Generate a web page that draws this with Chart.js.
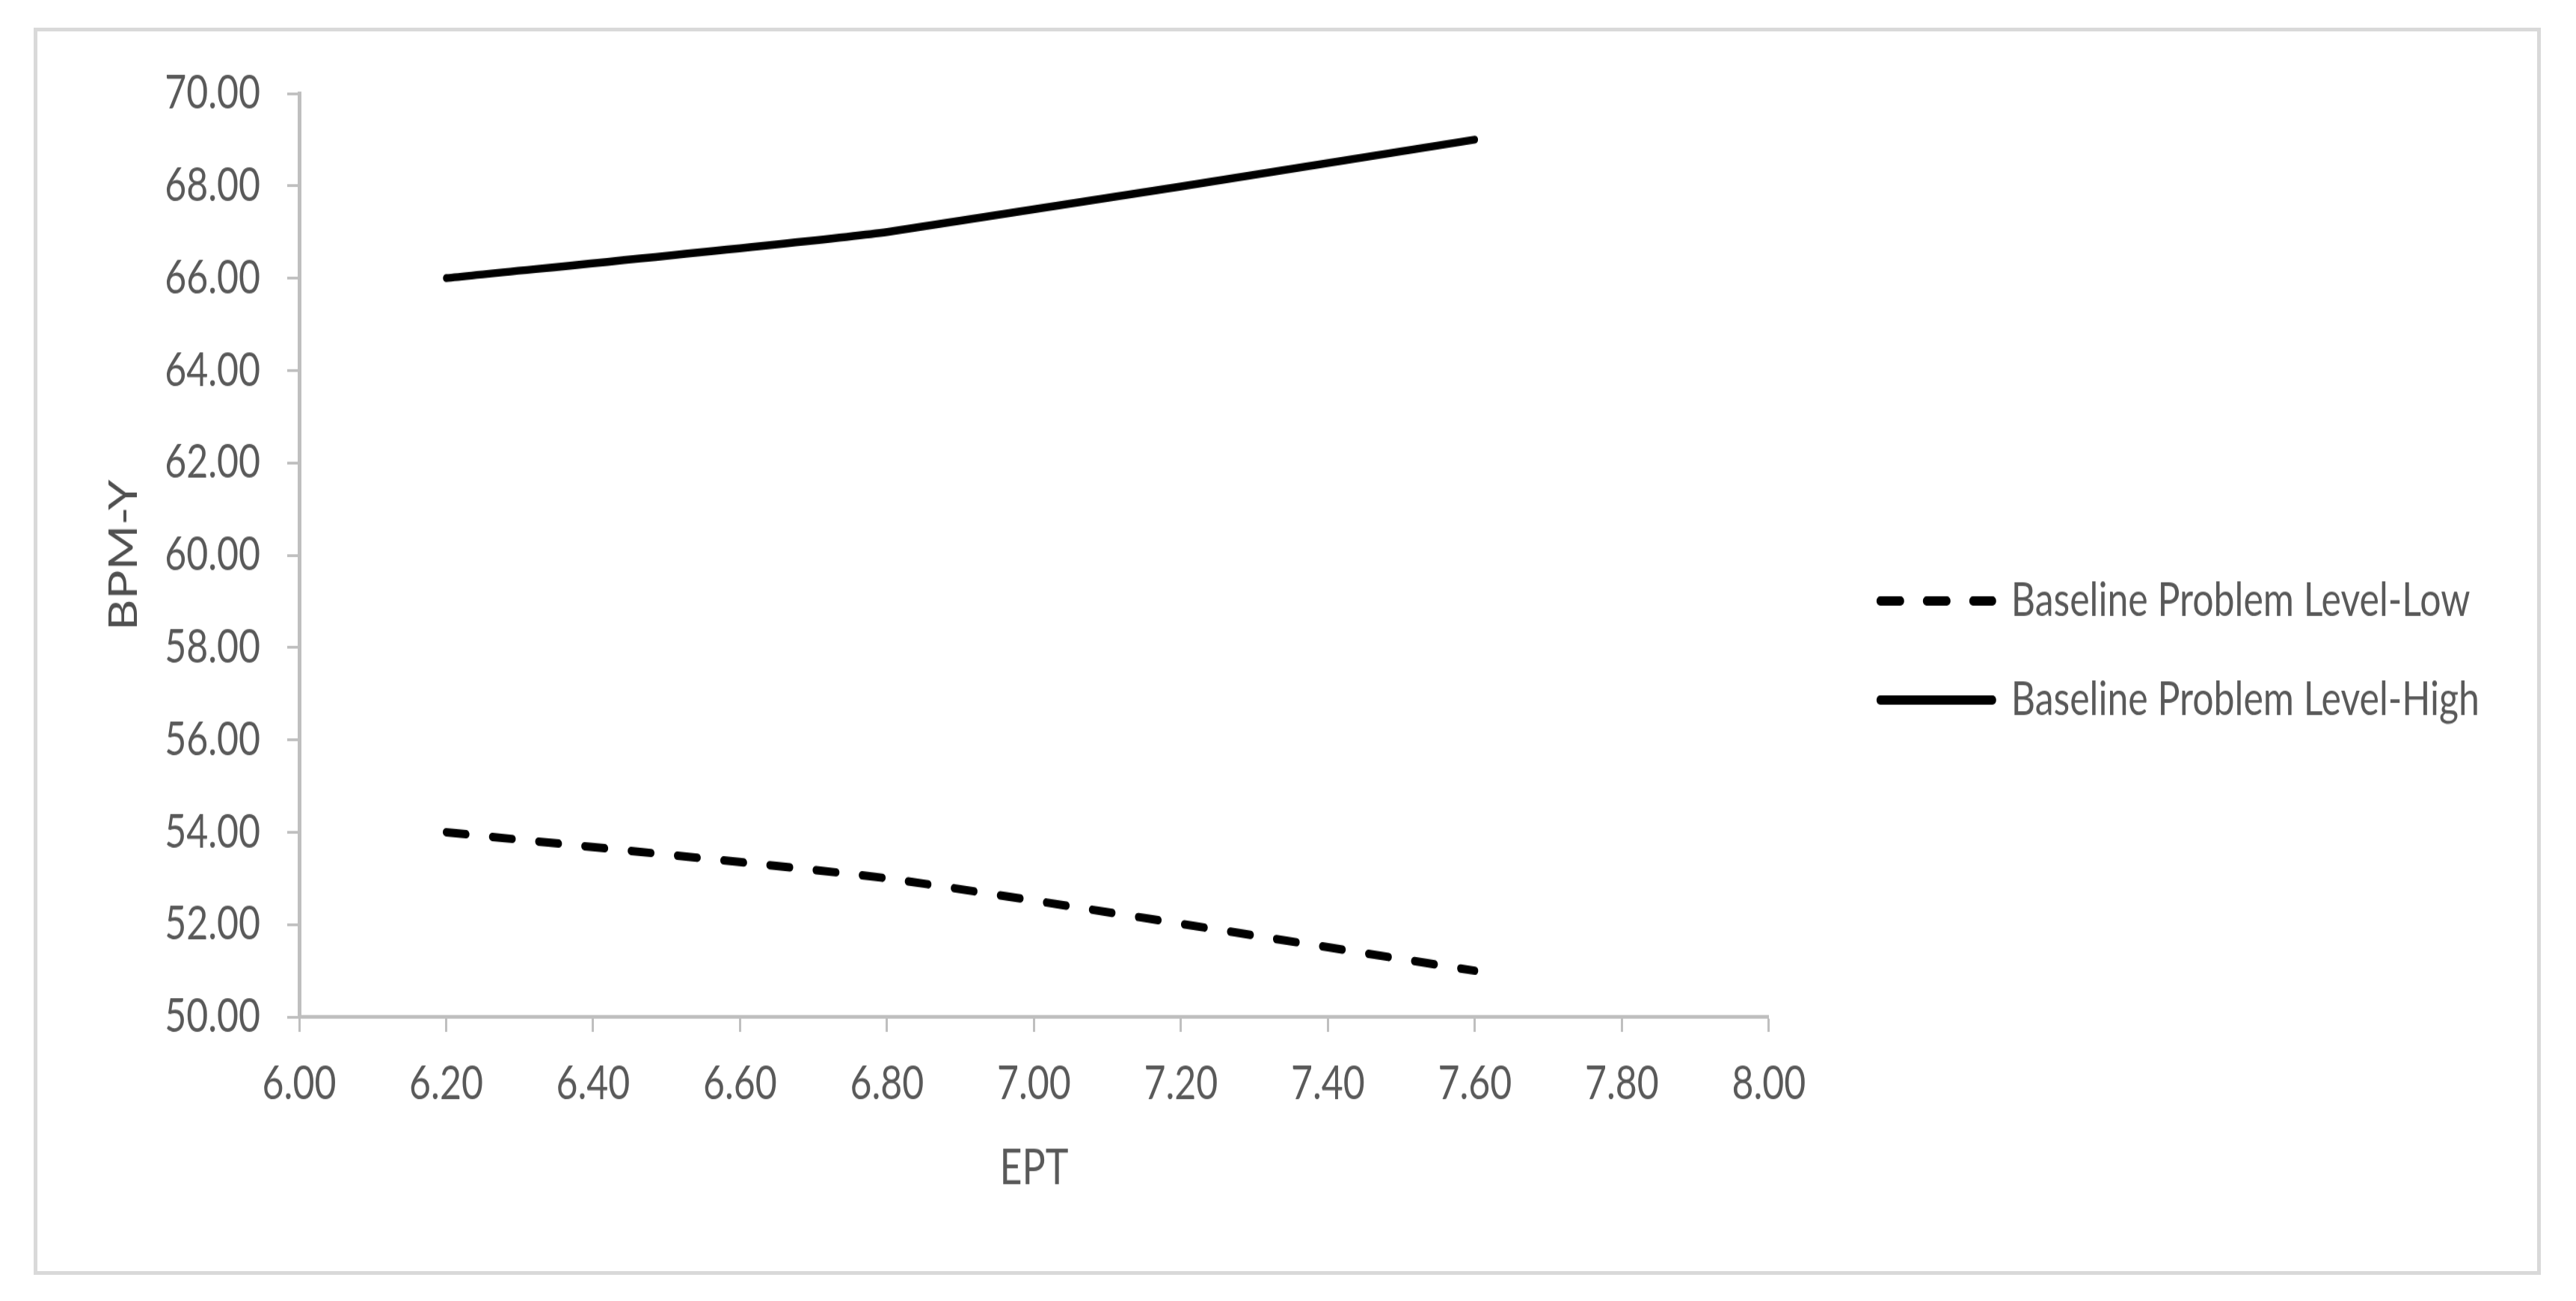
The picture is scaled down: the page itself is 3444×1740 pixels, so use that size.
<!DOCTYPE html>
<html>
<head>
<meta charset="utf-8">
<script src="https://cdn.jsdelivr.net/npm/chart.js@4.4.1/dist/chart.umd.min.js"></script>
<style>
html,body{margin:0;padding:0;background:#fff;overflow:hidden;width:3444px;height:1740px}
#frame{position:absolute;left:45px;top:37px;width:3342px;height:1658px;border:5px solid #d9d9d9;box-sizing:content-box}
#wrap{position:absolute;left:0;top:0;width:3444px;height:1392px;transform:scaleY(1.25);transform-origin:0 0}
canvas{display:block}
</style>
</head>
<body>
<div id="frame"></div>
<div id="wrap"><canvas id="c" width="3444" height="1392"></canvas></div>
<script>
// ---- data ----
const eptValues = [6.2, 6.8, 7.6];
const lowValues = [54, 53, 51];
const highValues = [66, 67, 69];
const seriesNames = ['Baseline Problem Level-Low', 'Baseline Problem Level-High'];
const xTickValues = [6.0, 6.2, 6.4, 6.6, 6.8, 7.0, 7.2, 7.4, 7.6, 7.8, 8.0];
const yTickValues = [50, 52, 54, 56, 58, 60, 62, 64, 66, 68, 70];
const xTitle = 'EPT';
const yTitle = 'BPM-Y';

const textColor = '#595959';
const axisColor = '#bfbfbf';
const fontFamily = 'Lato, "Open Sans", sans-serif';
Chart.defaults.font.family = fontFamily;

const toPoints = vals => eptValues.map((x, i) => ({x: x, y: vals[i]}));

new Chart(document.getElementById('c'), {
  type: 'line',
  data: {
    datasets: [
      {
        label: seriesNames[0],
        data: toPoints(lowValues),
        borderColor: '#000', backgroundColor: '#000',
        borderWidth: 9, borderDash: [27, 35], borderCapStyle: 'round',
        pointRadius: 0, tension: 0.15, fill: false
      },
      {
        label: seriesNames[1],
        data: toPoints(highValues),
        borderColor: '#000', backgroundColor: '#000',
        borderWidth: 8.5, borderDash: [], borderCapStyle: 'round',
        pointRadius: 0, tension: 0.15, fill: false
      }
    ]
  },
  options: {
    responsive: false,
    animation: false,
    devicePixelRatio: 1,
    layout: {padding: {top: 100, bottom: 100, left: -200, right: 119}},
    plugins: {
      tooltip: {enabled: false},
      legend: {
        position: 'right',
        labels: {
          usePointStyle: true,
          pointStyle: 'line',
          pointStyleWidth: 150,
          padding: 56,
          color: textColor,
          font: {family: fontFamily, size: 50},
          generateLabels: function(chart) {
            const items = Chart.defaults.plugins.legend.labels.generateLabels(chart);
            items.forEach(it => {
              const ds = chart.data.datasets[it.datasetIndex];
              it.lineWidth = 10;
              it.lineCap = 'round';
              it.lineDash = ds.borderDash || [];
              it.strokeStyle = '#000';
              it.fontColor = textColor;
            });
            return items;
          }
        }
      }
    },
    scales: {
      x: {
        type: 'linear', position: 'bottom', min: 6, max: 8,
        afterBuildTicks: s => { s.ticks = xTickValues.map(v => ({value: v})); },
        afterFit: s => { s.height = 204; },
        ticks: {
          callback: v => Number(v).toFixed(2),
          padding: 26, color: textColor, autoSkip: false, maxRotation: 0,
          font: {size: 50}
        },
        grid: {display: true, drawOnChartArea: false, drawTicks: true, tickLength: 16, tickWidth: 3, tickColor: axisColor},
        border: {display: true, color: axisColor, width: 4},
        title: {display: true, text: xTitle, color: textColor, font: {size: 52}, padding: {top: 0, bottom: 11}}
      },
      y: {
        type: 'linear', position: 'left', min: 50, max: 70,
        afterBuildTicks: s => { s.ticks = yTickValues.map(v => ({value: v})); },
        afterFit: s => { s.width = 600; },
        ticks: {
          callback: v => Number(v).toFixed(2),
          padding: 36, color: textColor,
          font: {size: 50}
        },
        grid: {display: true, drawOnChartArea: false, drawTicks: true, tickLength: 16, tickWidth: 3, tickColor: axisColor},
        border: {display: true, color: axisColor, width: 5},
        title: {display: true, text: yTitle, color: '#505050', font: {size: 52}, padding: {top: 335, bottom: 0}}
      },
      gap: {
        type: 'linear', position: 'right', display: false,
        afterFit: s => { s.width = 93; }
      }
    }
  }
});
</script>
</body>
</html>
